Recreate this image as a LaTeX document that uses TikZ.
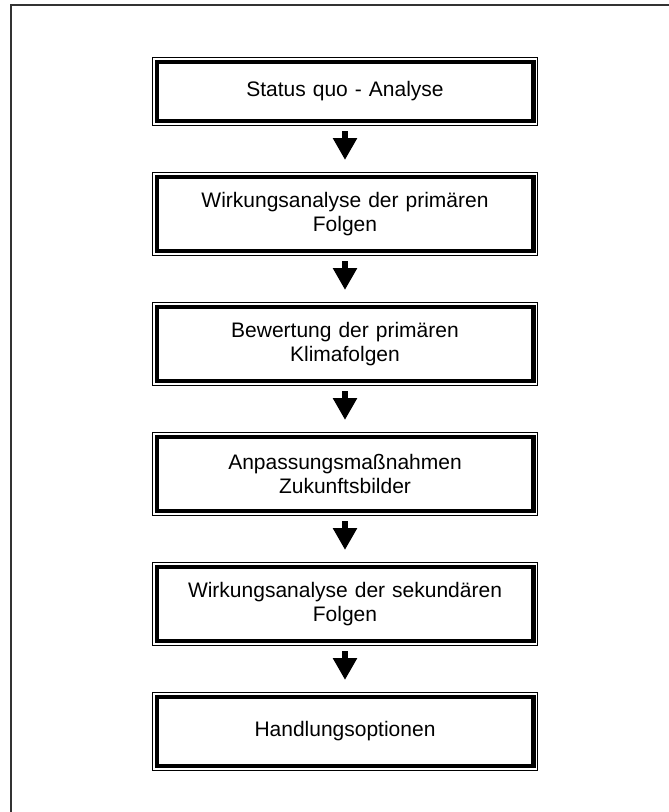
\documentclass[tikz,border=0pt]{standalone}
\usepackage{fontspec}
\setmainfont{Liberation Sans}
\usetikzlibrary{positioning}
\usetikzlibrary{arrows.meta}
\tikzstyle{stage} = [draw, line width=4.5pt, minimum width=376.5pt, text width=360pt, align=center, font=\fontsize{21}{24}\selectfont]
\tikzstyle{oneline} = [minimum height=58.9pt]
\tikzstyle{twoline} = [minimum height=73.9pt]
\tikzstyle{lastline} = [minimum height=68.9pt]
\tikzstyle{rim} = [draw, line width=1.3pt]
\tikzstyle{flow} = [draw, line width=6pt, -{Triangle[width=23pt,length=22pt]}, shorten <=7.8pt, shorten >=14.8pt]
\tikzstyle{frame} = [draw, line width=1.3pt, black!80]

\begin{document}
\begin{tikzpicture}[x=1pt, y=-1pt, node distance=51.6pt]
	\useasboundingbox (0,0) rectangle (669,812);
	\path[frame] (11,812) -- (11,5) -- (669,5);

	\node[stage, oneline] (status) at (345,91.5) {Status quo - Analyse};
	\node[stage, twoline] (primaer) [below = of status] {Wirkungsanalyse der primären\\Folgen};
	\node[stage, twoline] (bewertung) [below = of primaer] {Bewertung der primären\\Klimafolgen};
	\node[stage, twoline] (anpassung) [below = of bewertung] {Anpassungsmaßnahmen\\Zukunftsbilder};
	\node[stage, twoline] (sekundaer) [below = of anpassung] {Wirkungsanalyse der sekundären\\Folgen};
	\node[stage, lastline] (handlung) [below = of sekundaer] {Handlungsoptionen};

	% thin outer line of each frame
	\foreach \n in {status, primaer, bewertung, anpassung, sekundaer, handlung}
		\path[rim] ([shift={(-2.15,-2.15)}]\n.north west) rectangle ([shift={(2.15,2.15)}]\n.south east);

	\path [flow] (status) -- (primaer);
	\path [flow] (primaer) -- (bewertung);
	\path [flow] (bewertung) -- (anpassung);
	\path [flow] (anpassung) -- (sekundaer);
	\path [flow] (sekundaer) -- (handlung);
\end{tikzpicture}
\end{document}
